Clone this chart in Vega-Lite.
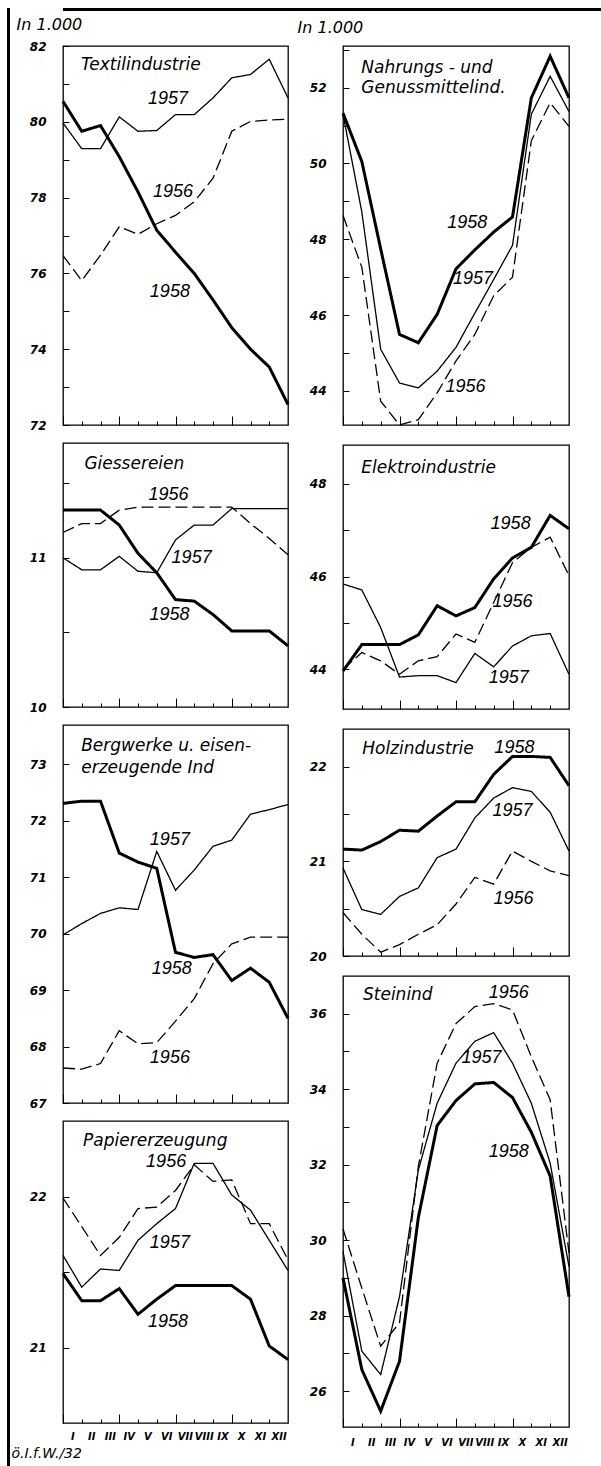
{
"$schema": "https://vega.github.io/schema/vega-lite/v6.json",
"background": "white",
"padding": {"left": 7, "top": 8, "right": 0, "bottom": 0},
"datasets": {
"series": [
{"p":"T","yr":"1956","k":0,"v":76.47},{"p":"T","yr":"1956","k":1,"v":75.81},{"p":"T","yr":"1956","k":2,"v":76.48},{"p":"T","yr":"1956","k":3,"v":77.23},{"p":"T","yr":"1956","k":4,"v":77.03},{"p":"T","yr":"1956","k":5,"v":77.31},{"p":"T","yr":"1956","k":6,"v":77.53},{"p":"T","yr":"1956","k":7,"v":77.89},{"p":"T","yr":"1956","k":8,"v":78.51},{"p":"T","yr":"1956","k":9,"v":79.75},{"p":"T","yr":"1956","k":10,"v":80.01},{"p":"T","yr":"1956","k":11,"v":80.05},{"p":"T","yr":"1956","k":12,"v":80.07},
{"p":"T","yr":"1957","k":0,"v":79.97},{"p":"T","yr":"1957","k":1,"v":79.29},{"p":"T","yr":"1957","k":2,"v":79.29},{"p":"T","yr":"1957","k":3,"v":80.13},{"p":"T","yr":"1957","k":4,"v":79.75},{"p":"T","yr":"1957","k":5,"v":79.77},{"p":"T","yr":"1957","k":6,"v":80.19},{"p":"T","yr":"1957","k":7,"v":80.19},{"p":"T","yr":"1957","k":8,"v":80.63},{"p":"T","yr":"1957","k":9,"v":81.16},{"p":"T","yr":"1957","k":10,"v":81.25},{"p":"T","yr":"1957","k":11,"v":81.65},{"p":"T","yr":"1957","k":12,"v":80.63},
{"p":"T","yr":"1958","k":0,"v":80.54},{"p":"T","yr":"1958","k":1,"v":79.75},{"p":"T","yr":"1958","k":2,"v":79.9},{"p":"T","yr":"1958","k":3,"v":79.08},{"p":"T","yr":"1958","k":4,"v":78.15},{"p":"T","yr":"1958","k":5,"v":77.14},{"p":"T","yr":"1958","k":6,"v":76.56},{"p":"T","yr":"1958","k":7,"v":76.0},{"p":"T","yr":"1958","k":8,"v":75.3},{"p":"T","yr":"1958","k":9,"v":74.57},{"p":"T","yr":"1958","k":10,"v":74.0},{"p":"T","yr":"1958","k":11,"v":73.53},{"p":"T","yr":"1958","k":12,"v":72.54},
{"p":"G","yr":"1956","k":0,"v":11.17},{"p":"G","yr":"1956","k":1,"v":11.23},{"p":"G","yr":"1956","k":2,"v":11.23},{"p":"G","yr":"1956","k":3,"v":11.32},{"p":"G","yr":"1956","k":4,"v":11.34},{"p":"G","yr":"1956","k":5,"v":11.34},{"p":"G","yr":"1956","k":6,"v":11.34},{"p":"G","yr":"1956","k":7,"v":11.34},{"p":"G","yr":"1956","k":8,"v":11.34},{"p":"G","yr":"1956","k":9,"v":11.34},{"p":"G","yr":"1956","k":10,"v":11.23},{"p":"G","yr":"1956","k":11,"v":11.13},{"p":"G","yr":"1956","k":12,"v":11.02},
{"p":"G","yr":"1957","k":0,"v":11.0},{"p":"G","yr":"1957","k":1,"v":10.92},{"p":"G","yr":"1957","k":2,"v":10.92},{"p":"G","yr":"1957","k":3,"v":11.01},{"p":"G","yr":"1957","k":4,"v":10.91},{"p":"G","yr":"1957","k":5,"v":10.9},{"p":"G","yr":"1957","k":6,"v":11.12},{"p":"G","yr":"1957","k":7,"v":11.22},{"p":"G","yr":"1957","k":8,"v":11.22},{"p":"G","yr":"1957","k":9,"v":11.33},{"p":"G","yr":"1957","k":10,"v":11.33},{"p":"G","yr":"1957","k":11,"v":11.33},{"p":"G","yr":"1957","k":12,"v":11.33},
{"p":"G","yr":"1958","k":0,"v":11.32},{"p":"G","yr":"1958","k":1,"v":11.32},{"p":"G","yr":"1958","k":2,"v":11.32},{"p":"G","yr":"1958","k":3,"v":11.22},{"p":"G","yr":"1958","k":4,"v":11.03},{"p":"G","yr":"1958","k":5,"v":10.9},{"p":"G","yr":"1958","k":6,"v":10.72},{"p":"G","yr":"1958","k":7,"v":10.71},{"p":"G","yr":"1958","k":8,"v":10.62},{"p":"G","yr":"1958","k":9,"v":10.51},{"p":"G","yr":"1958","k":10,"v":10.51},{"p":"G","yr":"1958","k":11,"v":10.51},{"p":"G","yr":"1958","k":12,"v":10.41},
{"p":"B","yr":"1956","k":0,"v":67.62},{"p":"B","yr":"1956","k":1,"v":67.6},{"p":"B","yr":"1956","k":2,"v":67.7},{"p":"B","yr":"1956","k":3,"v":68.28},{"p":"B","yr":"1956","k":4,"v":68.05},{"p":"B","yr":"1956","k":5,"v":68.07},{"p":"B","yr":"1956","k":6,"v":68.45},{"p":"B","yr":"1956","k":7,"v":68.85},{"p":"B","yr":"1956","k":8,"v":69.47},{"p":"B","yr":"1956","k":9,"v":69.82},{"p":"B","yr":"1956","k":10,"v":69.94},{"p":"B","yr":"1956","k":11,"v":69.94},{"p":"B","yr":"1956","k":12,"v":69.94},
{"p":"B","yr":"1957","k":0,"v":69.98},{"p":"B","yr":"1957","k":1,"v":70.18},{"p":"B","yr":"1957","k":2,"v":70.36},{"p":"B","yr":"1957","k":3,"v":70.46},{"p":"B","yr":"1957","k":4,"v":70.43},{"p":"B","yr":"1957","k":5,"v":71.46},{"p":"B","yr":"1957","k":6,"v":70.77},{"p":"B","yr":"1957","k":7,"v":71.13},{"p":"B","yr":"1957","k":8,"v":71.55},{"p":"B","yr":"1957","k":9,"v":71.66},{"p":"B","yr":"1957","k":10,"v":72.12},{"p":"B","yr":"1957","k":11,"v":72.2},{"p":"B","yr":"1957","k":12,"v":72.29},
{"p":"B","yr":"1958","k":0,"v":72.31},{"p":"B","yr":"1958","k":1,"v":72.35},{"p":"B","yr":"1958","k":2,"v":72.35},{"p":"B","yr":"1958","k":3,"v":71.43},{"p":"B","yr":"1958","k":4,"v":71.27},{"p":"B","yr":"1958","k":5,"v":71.16},{"p":"B","yr":"1958","k":6,"v":69.67},{"p":"B","yr":"1958","k":7,"v":69.58},{"p":"B","yr":"1958","k":8,"v":69.63},{"p":"B","yr":"1958","k":9,"v":69.17},{"p":"B","yr":"1958","k":10,"v":69.39},{"p":"B","yr":"1958","k":11,"v":69.14},{"p":"B","yr":"1958","k":12,"v":68.5},
{"p":"P","yr":"1956","k":0,"v":21.99},{"p":"P","yr":"1956","k":1,"v":21.8},{"p":"P","yr":"1956","k":2,"v":21.61},{"p":"P","yr":"1956","k":3,"v":21.73},{"p":"P","yr":"1956","k":4,"v":21.92},{"p":"P","yr":"1956","k":5,"v":21.93},{"p":"P","yr":"1956","k":6,"v":22.04},{"p":"P","yr":"1956","k":7,"v":22.21},{"p":"P","yr":"1956","k":8,"v":22.1},{"p":"P","yr":"1956","k":9,"v":22.11},{"p":"P","yr":"1956","k":10,"v":21.82},{"p":"P","yr":"1956","k":11,"v":21.82},{"p":"P","yr":"1956","k":12,"v":21.58},
{"p":"P","yr":"1957","k":0,"v":21.61},{"p":"P","yr":"1957","k":1,"v":21.4},{"p":"P","yr":"1957","k":2,"v":21.52},{"p":"P","yr":"1957","k":3,"v":21.51},{"p":"P","yr":"1957","k":4,"v":21.71},{"p":"P","yr":"1957","k":5,"v":21.82},{"p":"P","yr":"1957","k":6,"v":21.92},{"p":"P","yr":"1957","k":7,"v":22.22},{"p":"P","yr":"1957","k":8,"v":22.22},{"p":"P","yr":"1957","k":9,"v":22.01},{"p":"P","yr":"1957","k":10,"v":21.91},{"p":"P","yr":"1957","k":11,"v":21.71},{"p":"P","yr":"1957","k":12,"v":21.51},
{"p":"P","yr":"1958","k":0,"v":21.49},{"p":"P","yr":"1958","k":1,"v":21.31},{"p":"P","yr":"1958","k":2,"v":21.31},{"p":"P","yr":"1958","k":3,"v":21.39},{"p":"P","yr":"1958","k":4,"v":21.22},{"p":"P","yr":"1958","k":5,"v":21.32},{"p":"P","yr":"1958","k":6,"v":21.41},{"p":"P","yr":"1958","k":7,"v":21.41},{"p":"P","yr":"1958","k":8,"v":21.41},{"p":"P","yr":"1958","k":9,"v":21.41},{"p":"P","yr":"1958","k":10,"v":21.32},{"p":"P","yr":"1958","k":11,"v":21.01},{"p":"P","yr":"1958","k":12,"v":20.92},
{"p":"N","yr":"1956","k":0,"v":48.63},{"p":"N","yr":"1956","k":1,"v":47.26},{"p":"N","yr":"1956","k":2,"v":43.73},{"p":"N","yr":"1956","k":3,"v":43.1},{"p":"N","yr":"1956","k":4,"v":43.24},{"p":"N","yr":"1956","k":5,"v":43.95},{"p":"N","yr":"1956","k":6,"v":44.79},{"p":"N","yr":"1956","k":7,"v":45.49},{"p":"N","yr":"1956","k":8,"v":46.51},{"p":"N","yr":"1956","k":9,"v":47.0},{"p":"N","yr":"1956","k":10,"v":50.6},{"p":"N","yr":"1956","k":11,"v":51.6},{"p":"N","yr":"1956","k":12,"v":50.98},
{"p":"N","yr":"1957","k":0,"v":51.3},{"p":"N","yr":"1957","k":1,"v":48.72},{"p":"N","yr":"1957","k":2,"v":45.1},{"p":"N","yr":"1957","k":3,"v":44.21},{"p":"N","yr":"1957","k":4,"v":44.08},{"p":"N","yr":"1957","k":5,"v":44.52},{"p":"N","yr":"1957","k":6,"v":45.15},{"p":"N","yr":"1957","k":7,"v":46.05},{"p":"N","yr":"1957","k":8,"v":46.94},{"p":"N","yr":"1957","k":9,"v":47.84},{"p":"N","yr":"1957","k":10,"v":51.3},{"p":"N","yr":"1957","k":11,"v":52.3},{"p":"N","yr":"1957","k":12,"v":51.37},
{"p":"N","yr":"1958","k":0,"v":51.33},{"p":"N","yr":"1958","k":1,"v":50.05},{"p":"N","yr":"1958","k":2,"v":47.75},{"p":"N","yr":"1958","k":3,"v":45.49},{"p":"N","yr":"1958","k":4,"v":45.27},{"p":"N","yr":"1958","k":5,"v":46.02},{"p":"N","yr":"1958","k":6,"v":47.22},{"p":"N","yr":"1958","k":7,"v":47.72},{"p":"N","yr":"1958","k":8,"v":48.19},{"p":"N","yr":"1958","k":9,"v":48.59},{"p":"N","yr":"1958","k":10,"v":51.73},{"p":"N","yr":"1958","k":11,"v":52.83},{"p":"N","yr":"1958","k":12,"v":51.73},
{"p":"E","yr":"1956","k":0,"v":44.0},{"p":"E","yr":"1956","k":1,"v":44.36},{"p":"E","yr":"1956","k":2,"v":44.18},{"p":"E","yr":"1956","k":3,"v":43.89},{"p":"E","yr":"1956","k":4,"v":44.18},{"p":"E","yr":"1956","k":5,"v":44.27},{"p":"E","yr":"1956","k":6,"v":44.76},{"p":"E","yr":"1956","k":7,"v":44.58},{"p":"E","yr":"1956","k":8,"v":45.44},{"p":"E","yr":"1956","k":9,"v":46.3},{"p":"E","yr":"1956","k":10,"v":46.63},{"p":"E","yr":"1956","k":11,"v":46.85},{"p":"E","yr":"1956","k":12,"v":46.02},
{"p":"E","yr":"1957","k":0,"v":45.84},{"p":"E","yr":"1957","k":1,"v":45.71},{"p":"E","yr":"1957","k":2,"v":44.9},{"p":"E","yr":"1957","k":3,"v":43.83},{"p":"E","yr":"1957","k":4,"v":43.86},{"p":"E","yr":"1957","k":5,"v":43.86},{"p":"E","yr":"1957","k":6,"v":43.71},{"p":"E","yr":"1957","k":7,"v":44.34},{"p":"E","yr":"1957","k":8,"v":44.05},{"p":"E","yr":"1957","k":9,"v":44.5},{"p":"E","yr":"1957","k":10,"v":44.72},{"p":"E","yr":"1957","k":11,"v":44.77},{"p":"E","yr":"1957","k":12,"v":43.89},
{"p":"E","yr":"1958","k":0,"v":43.96},{"p":"E","yr":"1958","k":1,"v":44.53},{"p":"E","yr":"1958","k":2,"v":44.53},{"p":"E","yr":"1958","k":3,"v":44.53},{"p":"E","yr":"1958","k":4,"v":44.74},{"p":"E","yr":"1958","k":5,"v":45.37},{"p":"E","yr":"1958","k":6,"v":45.15},{"p":"E","yr":"1958","k":7,"v":45.33},{"p":"E","yr":"1958","k":8,"v":45.95},{"p":"E","yr":"1958","k":9,"v":46.4},{"p":"E","yr":"1958","k":10,"v":46.63},{"p":"E","yr":"1958","k":11,"v":47.32},{"p":"E","yr":"1958","k":12,"v":47.03},
{"p":"H","yr":"1956","k":0,"v":20.46},{"p":"H","yr":"1956","k":1,"v":20.23},{"p":"H","yr":"1956","k":2,"v":20.04},{"p":"H","yr":"1956","k":3,"v":20.12},{"p":"H","yr":"1956","k":4,"v":20.23},{"p":"H","yr":"1956","k":5,"v":20.33},{"p":"H","yr":"1956","k":6,"v":20.55},{"p":"H","yr":"1956","k":7,"v":20.83},{"p":"H","yr":"1956","k":8,"v":20.76},{"p":"H","yr":"1956","k":9,"v":21.11},{"p":"H","yr":"1956","k":10,"v":21.0},{"p":"H","yr":"1956","k":11,"v":20.9},{"p":"H","yr":"1956","k":12,"v":20.85},
{"p":"H","yr":"1957","k":0,"v":20.93},{"p":"H","yr":"1957","k":1,"v":20.49},{"p":"H","yr":"1957","k":2,"v":20.44},{"p":"H","yr":"1957","k":3,"v":20.63},{"p":"H","yr":"1957","k":4,"v":20.72},{"p":"H","yr":"1957","k":5,"v":21.04},{"p":"H","yr":"1957","k":6,"v":21.13},{"p":"H","yr":"1957","k":7,"v":21.46},{"p":"H","yr":"1957","k":8,"v":21.67},{"p":"H","yr":"1957","k":9,"v":21.78},{"p":"H","yr":"1957","k":10,"v":21.74},{"p":"H","yr":"1957","k":11,"v":21.52},{"p":"H","yr":"1957","k":12,"v":21.11},
{"p":"H","yr":"1958","k":0,"v":21.13},{"p":"H","yr":"1958","k":1,"v":21.12},{"p":"H","yr":"1958","k":2,"v":21.21},{"p":"H","yr":"1958","k":3,"v":21.33},{"p":"H","yr":"1958","k":4,"v":21.32},{"p":"H","yr":"1958","k":5,"v":21.48},{"p":"H","yr":"1958","k":6,"v":21.63},{"p":"H","yr":"1958","k":7,"v":21.63},{"p":"H","yr":"1958","k":8,"v":21.92},{"p":"H","yr":"1958","k":9,"v":22.11},{"p":"H","yr":"1958","k":10,"v":22.11},{"p":"H","yr":"1958","k":11,"v":22.1},{"p":"H","yr":"1958","k":12,"v":21.8},
{"p":"S","yr":"1956","k":0,"v":30.3},{"p":"S","yr":"1956","k":1,"v":28.73},{"p":"S","yr":"1956","k":2,"v":27.19},{"p":"S","yr":"1956","k":3,"v":27.81},{"p":"S","yr":"1956","k":4,"v":31.95},{"p":"S","yr":"1956","k":5,"v":34.69},{"p":"S","yr":"1956","k":6,"v":35.74},{"p":"S","yr":"1956","k":7,"v":36.19},{"p":"S","yr":"1956","k":8,"v":36.27},{"p":"S","yr":"1956","k":9,"v":36.1},{"p":"S","yr":"1956","k":10,"v":34.86},{"p":"S","yr":"1956","k":11,"v":33.72},{"p":"S","yr":"1956","k":12,"v":29.66},
{"p":"S","yr":"1957","k":0,"v":29.7},{"p":"S","yr":"1957","k":1,"v":27.06},{"p":"S","yr":"1957","k":2,"v":26.44},{"p":"S","yr":"1957","k":3,"v":28.5},{"p":"S","yr":"1957","k":4,"v":31.86},{"p":"S","yr":"1957","k":5,"v":33.63},{"p":"S","yr":"1957","k":6,"v":34.69},{"p":"S","yr":"1957","k":7,"v":35.27},{"p":"S","yr":"1957","k":8,"v":35.5},{"p":"S","yr":"1957","k":9,"v":34.69},{"p":"S","yr":"1957","k":10,"v":33.63},{"p":"S","yr":"1957","k":11,"v":32.04},{"p":"S","yr":"1957","k":12,"v":29.3},
{"p":"S","yr":"1958","k":0,"v":29.0},{"p":"S","yr":"1958","k":1,"v":26.57},{"p":"S","yr":"1958","k":2,"v":25.47},{"p":"S","yr":"1958","k":3,"v":26.79},{"p":"S","yr":"1958","k":4,"v":30.6},{"p":"S","yr":"1958","k":5,"v":33.04},{"p":"S","yr":"1958","k":6,"v":33.7},{"p":"S","yr":"1958","k":7,"v":34.14},{"p":"S","yr":"1958","k":8,"v":34.18},{"p":"S","yr":"1958","k":9,"v":33.78},{"p":"S","yr":"1958","k":10,"v":32.86},{"p":"S","yr":"1958","k":11,"v":31.7},{"p":"S","yr":"1958","k":12,"v":28.5}
],
"labels": [
{"p":"T","kind":"title","t":"Textilindustrie","k":0.96,"v":81.71},
{"p":"T","kind":"year","t":"1957","k":5.6,"v":80.6},
{"p":"T","kind":"year","t":"1956","k":5.87,"v":78.15},
{"p":"T","kind":"year","t":"1958","k":5.7,"v":75.5},
{"p":"G","kind":"title","t":"Giessereien","k":1.14,"v":11.68},
{"p":"G","kind":"year","t":"1956","k":5.63,"v":11.42},
{"p":"G","kind":"year","t":"1957","k":6.86,"v":11.0},
{"p":"G","kind":"year","t":"1958","k":5.68,"v":10.62},
{"p":"B","kind":"title","t":"Bergwerke  u. eisen-\nerzeugende  Ind","k":0.97,"v":73.47},
{"p":"B","kind":"year","t":"1957","k":5.7,"v":71.67},
{"p":"B","kind":"year","t":"1958","k":5.8,"v":69.38},
{"p":"B","kind":"year","t":"1956","k":5.7,"v":67.8},
{"p":"P","kind":"title","t":"Papiererzeugung","k":1.07,"v":22.42},
{"p":"P","kind":"year","t":"1956","k":5.5,"v":22.23},
{"p":"P","kind":"year","t":"1957","k":5.7,"v":21.69},
{"p":"P","kind":"year","t":"1958","k":5.6,"v":21.17},
{"p":"N","kind":"title","t":"Nahrungs - und\nGenussmittelind.","k":0.97,"v":52.73},
{"p":"N","kind":"year","t":"1958","k":6.6,"v":48.43},
{"p":"N","kind":"year","t":"1957","k":6.9,"v":46.94},
{"p":"N","kind":"year","t":"1956","k":6.5,"v":44.1},
{"p":"E","kind":"title","t":"Elektroindustrie","k":0.97,"v":48.52},
{"p":"E","kind":"year","t":"1958","k":8.9,"v":47.13},
{"p":"E","kind":"year","t":"1956","k":9.0,"v":45.44},
{"p":"E","kind":"year","t":"1957","k":8.8,"v":43.82},
{"p":"H","kind":"title","t":"Holzindustrie","k":1.02,"v":22.27},
{"p":"H","kind":"year","t":"1958","k":9.1,"v":22.2},
{"p":"H","kind":"year","t":"1957","k":9.0,"v":21.53},
{"p":"H","kind":"year","t":"1956","k":9.05,"v":20.6},
{"p":"S","kind":"title","t":"Steinind","k":1.06,"v":36.7},
{"p":"S","kind":"year","t":"1956","k":8.8,"v":36.54},
{"p":"S","kind":"year","t":"1957","k":7.35,"v":34.82},
{"p":"S","kind":"year","t":"1958","k":8.8,"v":32.33}
]
},
"config": {
"view": {"stroke": "black", "strokeWidth": 1.3},
"axis": {"domain": false, "grid": false, "tickColor": "black", "tickWidth": 1, "labelColor": "black", "labelFont": "DejaVu Sans", "labelFontStyle": "italic", "labelFontWeight": "bold", "labelFontSize": 12, "labelOverlap": false, "labelFlush": false, "titleColor": "black"},
"axisY": {"tickSize": -6, "labelPadding": 23}
},
"spacing": 0,
"hconcat": [
{"width": 3, "height": 1458, "data": {"values": []}, "mark": {"type": "point", "opacity": 0}, "view": {"stroke": null, "fill": "black"}},
{"spacing": 4, "vconcat": [
{"width": 591, "height": 3, "data": {"values": []}, "mark": {"type": "point", "opacity": 0}, "view": {"stroke": null, "fill": "black"}},
{"spacing": 1, "hconcat": [
{"bounds": "flush", "spacing": 18, "vconcat": [
{"width": 225, "height": 379,
 "encoding": {
  "x": {"field": "k", "type": "quantitative", "scale": {"domain": [0, 12], "nice": false, "zero": false}, "axis": {"values": [0,1,2,3,4,5,6,7,8,9,10,11], "labels": false, "title": null, "tickSize": {"condition": {"test": "datum.value % 3 == 0", "value": -9}, "value": -4}}},
  "y": {"field": "v", "type": "quantitative", "scale": {"domain": [72, 82], "nice": false, "zero": false}, "axis": {"values": [72,73,74,75,76,77,78,79,80,81,82], "labelExpr": "datum.value % 2 == 0 ? '' + datum.value : ''", "title": "In 1.000", "titleAngle": 0, "titleAlign": "left", "titleBaseline": "alphabetic", "titleX": -47, "titleY": -17, "titleFont": "DejaVu Sans", "titleFontStyle": "italic", "titleFontWeight": "normal", "titleFontSize": 16}}
 },
 "layer": [
  {"data": {"name": "series"}, "transform": [{"filter": "datum.p == 'T'"}], "mark": {"type": "line", "color": "black"},
   "encoding": {"detail": {"field": "yr"}, "strokeDash": {"field": "yr", "type": "nominal", "scale": {"domain": ["1956","1957","1958"], "range": [[12,5],[1,0],[1,0]]}, "legend": null}, "strokeWidth": {"condition": {"test": "datum.yr == '1958'", "value": 3}, "value": 1.3}}},
  {"data": {"name": "labels"}, "transform": [{"filter": "datum.p == 'T' && datum.kind == 'year'"}], "mark": {"type": "text", "align": "center", "baseline": "middle", "font": "Liberation Sans", "fontSize": 18, "fontStyle": "italic", "color": "black"}, "encoding": {"text": {"field": "t", "type": "nominal"}}},
  {"data": {"name": "labels"}, "transform": [{"filter": "datum.p == 'T' && datum.kind == 'title'"}], "mark": {"type": "text", "align": "left", "baseline": "top", "font": "DejaVu Sans", "fontSize": 17, "fontStyle": "italic", "lineBreak": "\n", "lineHeight": 21, "color": "black"}, "encoding": {"text": {"field": "t", "type": "nominal"}}}
 ]},
{"width": 225, "height": 264,
 "encoding": {
  "x": {"field": "k", "type": "quantitative", "scale": {"domain": [0, 12], "nice": false, "zero": false}, "axis": {"values": [0,1,2,3,4,5,6,7,8,9,10,11], "labels": false, "title": null, "tickSize": {"condition": {"test": "datum.value % 3 == 0", "value": -9}, "value": -4}}},
  "y": {"field": "v", "type": "quantitative", "scale": {"domain": [10, 11.77], "nice": false, "zero": false}, "axis": {"values": [10,10.5,11,11.5], "labelExpr": "datum.value % 1 == 0 ? '' + datum.value : ''", "title": null}}
 },
 "layer": [
  {"data": {"name": "series"}, "transform": [{"filter": "datum.p == 'G'"}], "mark": {"type": "line", "color": "black"},
   "encoding": {"detail": {"field": "yr"}, "strokeDash": {"field": "yr", "type": "nominal", "scale": {"domain": ["1956","1957","1958"], "range": [[12,5],[1,0],[1,0]]}, "legend": null}, "strokeWidth": {"condition": {"test": "datum.yr == '1958'", "value": 3}, "value": 1.3}}},
  {"data": {"name": "labels"}, "transform": [{"filter": "datum.p == 'G' && datum.kind == 'year'"}], "mark": {"type": "text", "align": "center", "baseline": "middle", "font": "Liberation Sans", "fontSize": 18, "fontStyle": "italic", "color": "black"}, "encoding": {"text": {"field": "t", "type": "nominal"}}},
  {"data": {"name": "labels"}, "transform": [{"filter": "datum.p == 'G' && datum.kind == 'title'"}], "mark": {"type": "text", "align": "left", "baseline": "top", "font": "DejaVu Sans", "fontSize": 17, "fontStyle": "italic", "lineBreak": "\n", "lineHeight": 21, "color": "black"}, "encoding": {"text": {"field": "t", "type": "nominal"}}}
 ]},
{"width": 225, "height": 378,
 "encoding": {
  "x": {"field": "k", "type": "quantitative", "scale": {"domain": [0, 12], "nice": false, "zero": false}, "axis": {"values": [0,1,2,3,4,5,6,7,8,9,10,11], "labels": false, "title": null, "tickSize": {"condition": {"test": "datum.value % 3 == 0", "value": -9}, "value": -4}}},
  "y": {"field": "v", "type": "quantitative", "scale": {"domain": [67, 73.7], "nice": false, "zero": false}, "axis": {"values": [67,68,69,70,71,72,73], "labelExpr": "'' + datum.value", "title": null}}
 },
 "layer": [
  {"data": {"name": "series"}, "transform": [{"filter": "datum.p == 'B'"}], "mark": {"type": "line", "color": "black"},
   "encoding": {"detail": {"field": "yr"}, "strokeDash": {"field": "yr", "type": "nominal", "scale": {"domain": ["1956","1957","1958"], "range": [[12,5],[1,0],[1,0]]}, "legend": null}, "strokeWidth": {"condition": {"test": "datum.yr == '1958'", "value": 3}, "value": 1.3}}},
  {"data": {"name": "labels"}, "transform": [{"filter": "datum.p == 'B' && datum.kind == 'year'"}], "mark": {"type": "text", "align": "center", "baseline": "middle", "font": "Liberation Sans", "fontSize": 18, "fontStyle": "italic", "color": "black"}, "encoding": {"text": {"field": "t", "type": "nominal"}}},
  {"data": {"name": "labels"}, "transform": [{"filter": "datum.p == 'B' && datum.kind == 'title'"}], "mark": {"type": "text", "align": "left", "baseline": "top", "font": "DejaVu Sans", "fontSize": 17, "fontStyle": "italic", "lineBreak": "\n", "lineHeight": 22, "color": "black"}, "encoding": {"text": {"field": "t", "type": "nominal"}}}
 ]},
{"width": 225, "height": 302,
 "encoding": {
  "x": {"field": "k", "type": "quantitative", "scale": {"domain": [0, 12], "nice": false, "zero": false}, "axis": {"values": [0,1,2,3,4,5,6,7,8,9,10,11], "labels": true, "labelExpr": "['I','II','III','IV','V','VI','VII','VIII','IX','X','XI','XII'][datum.value]", "labelOffset": 9.4, "labelFontSize": 10, "labelPadding": {"condition": {"test": "datum.value % 3 == 0", "value": 17}, "value": 12}, "tickSize": {"condition": {"test": "datum.value % 3 == 0", "value": -9}, "value": -4}, "title": "ö.I.f.W./32", "titleX": -52, "titleY": 34, "titleAngle": 0, "titleAlign": "left", "titleBaseline": "alphabetic", "titleFont": "DejaVu Sans", "titleFontStyle": "italic", "titleFontWeight": "normal", "titleFontSize": 14}},
  "y": {"field": "v", "type": "quantitative", "scale": {"domain": [20.5, 22.5], "nice": false, "zero": false}, "axis": {"values": [21,21.5,22], "labelExpr": "datum.value % 1 == 0 ? '' + datum.value : ''", "title": null}}
 },
 "layer": [
  {"data": {"name": "series"}, "transform": [{"filter": "datum.p == 'P'"}], "mark": {"type": "line", "color": "black"},
   "encoding": {"detail": {"field": "yr"}, "strokeDash": {"field": "yr", "type": "nominal", "scale": {"domain": ["1956","1957","1958"], "range": [[12,5],[1,0],[1,0]]}, "legend": null}, "strokeWidth": {"condition": {"test": "datum.yr == '1958'", "value": 3}, "value": 1.3}}},
  {"data": {"name": "labels"}, "transform": [{"filter": "datum.p == 'P' && datum.kind == 'year'"}], "mark": {"type": "text", "align": "center", "baseline": "middle", "font": "Liberation Sans", "fontSize": 18, "fontStyle": "italic", "color": "black"}, "encoding": {"text": {"field": "t", "type": "nominal"}}},
  {"data": {"name": "labels"}, "transform": [{"filter": "datum.p == 'P' && datum.kind == 'title'"}], "mark": {"type": "text", "align": "left", "baseline": "top", "font": "DejaVu Sans", "fontSize": 17, "fontStyle": "italic", "lineBreak": "\n", "lineHeight": 21, "color": "black"}, "encoding": {"text": {"field": "t", "type": "nominal"}}}
 ]}
]},
{"bounds": "flush", "spacing": 20, "vconcat": [
{"width": 226, "height": 379,
 "encoding": {
  "x": {"field": "k", "type": "quantitative", "scale": {"domain": [0, 12], "nice": false, "zero": false}, "axis": {"values": [0,1,2,3,4,5,6,7,8,9,10,11], "labels": false, "title": null, "tickSize": {"condition": {"test": "datum.value % 3 == 0", "value": -9}, "value": -4}}},
  "y": {"field": "v", "type": "quantitative", "scale": {"domain": [43.1, 53.1], "nice": false, "zero": false}, "axis": {"values": [44,45,46,47,48,49,50,51,52,53], "labelExpr": "datum.value % 2 == 0 ? '' + datum.value : ''", "title": "In 1.000", "titleAngle": 0, "titleAlign": "left", "titleBaseline": "alphabetic", "titleX": -46, "titleY": -14, "titleFont": "DejaVu Sans", "titleFontStyle": "italic", "titleFontWeight": "normal", "titleFontSize": 16}}
 },
 "layer": [
  {"data": {"name": "series"}, "transform": [{"filter": "datum.p == 'N'"}], "mark": {"type": "line", "color": "black"},
   "encoding": {"detail": {"field": "yr"}, "strokeDash": {"field": "yr", "type": "nominal", "scale": {"domain": ["1956","1957","1958"], "range": [[12,5],[1,0],[1,0]]}, "legend": null}, "strokeWidth": {"condition": {"test": "datum.yr == '1958'", "value": 3}, "value": 1.3}}},
  {"data": {"name": "labels"}, "transform": [{"filter": "datum.p == 'N' && datum.kind == 'year'"}], "mark": {"type": "text", "align": "center", "baseline": "middle", "font": "Liberation Sans", "fontSize": 18, "fontStyle": "italic", "color": "black"}, "encoding": {"text": {"field": "t", "type": "nominal"}}},
  {"data": {"name": "labels"}, "transform": [{"filter": "datum.p == 'N' && datum.kind == 'title'"}], "mark": {"type": "text", "align": "left", "baseline": "top", "font": "DejaVu Sans", "fontSize": 17, "fontStyle": "italic", "lineBreak": "\n", "lineHeight": 20, "color": "black"}, "encoding": {"text": {"field": "t", "type": "nominal"}}}
 ]},
{"width": 226, "height": 264,
 "encoding": {
  "x": {"field": "k", "type": "quantitative", "scale": {"domain": [0, 12], "nice": false, "zero": false}, "axis": {"values": [0,1,2,3,4,5,6,7,8,9,10,11], "labels": false, "title": null, "tickSize": {"condition": {"test": "datum.value % 3 == 0", "value": -9}, "value": -4}}},
  "y": {"field": "v", "type": "quantitative", "scale": {"domain": [43.14, 48.84], "nice": false, "zero": false}, "axis": {"values": [44,45,46,47,48], "labelExpr": "datum.value % 2 == 0 ? '' + datum.value : ''", "title": null}}
 },
 "layer": [
  {"data": {"name": "series"}, "transform": [{"filter": "datum.p == 'E'"}], "mark": {"type": "line", "color": "black"},
   "encoding": {"detail": {"field": "yr"}, "strokeDash": {"field": "yr", "type": "nominal", "scale": {"domain": ["1956","1957","1958"], "range": [[12,5],[1,0],[1,0]]}, "legend": null}, "strokeWidth": {"condition": {"test": "datum.yr == '1958'", "value": 3}, "value": 1.3}}},
  {"data": {"name": "labels"}, "transform": [{"filter": "datum.p == 'E' && datum.kind == 'year'"}], "mark": {"type": "text", "align": "center", "baseline": "middle", "font": "Liberation Sans", "fontSize": 18, "fontStyle": "italic", "color": "black"}, "encoding": {"text": {"field": "t", "type": "nominal"}}},
  {"data": {"name": "labels"}, "transform": [{"filter": "datum.p == 'E' && datum.kind == 'title'"}], "mark": {"type": "text", "align": "left", "baseline": "top", "font": "DejaVu Sans", "fontSize": 17, "fontStyle": "italic", "lineBreak": "\n", "lineHeight": 21, "color": "black"}, "encoding": {"text": {"field": "t", "type": "nominal"}}}
 ]},
{"width": 226, "height": 227,
 "encoding": {
  "x": {"field": "k", "type": "quantitative", "scale": {"domain": [0, 12], "nice": false, "zero": false}, "axis": {"values": [0,1,2,3,4,5,6,7,8,9,10,11], "labels": false, "title": null, "tickSize": {"condition": {"test": "datum.value % 3 == 0", "value": -9}, "value": -4}}},
  "y": {"field": "v", "type": "quantitative", "scale": {"domain": [20, 22.4], "nice": false, "zero": false}, "axis": {"values": [20,20.5,21,21.5,22], "labelExpr": "datum.value % 1 == 0 ? '' + datum.value : ''", "title": null}}
 },
 "layer": [
  {"data": {"name": "series"}, "transform": [{"filter": "datum.p == 'H'"}], "mark": {"type": "line", "color": "black"},
   "encoding": {"detail": {"field": "yr"}, "strokeDash": {"field": "yr", "type": "nominal", "scale": {"domain": ["1956","1957","1958"], "range": [[12,5],[1,0],[1,0]]}, "legend": null}, "strokeWidth": {"condition": {"test": "datum.yr == '1958'", "value": 3}, "value": 1.3}}},
  {"data": {"name": "labels"}, "transform": [{"filter": "datum.p == 'H' && datum.kind == 'year'"}], "mark": {"type": "text", "align": "center", "baseline": "middle", "font": "Liberation Sans", "fontSize": 18, "fontStyle": "italic", "color": "black"}, "encoding": {"text": {"field": "t", "type": "nominal"}}},
  {"data": {"name": "labels"}, "transform": [{"filter": "datum.p == 'H' && datum.kind == 'title'"}], "mark": {"type": "text", "align": "left", "baseline": "top", "font": "DejaVu Sans", "fontSize": 17, "fontStyle": "italic", "lineBreak": "\n", "lineHeight": 21, "color": "black"}, "encoding": {"text": {"field": "t", "type": "nominal"}}}
 ]},
{"width": 226, "height": 451,
 "encoding": {
  "x": {"field": "k", "type": "quantitative", "scale": {"domain": [0, 12], "nice": false, "zero": false}, "axis": {"values": [0,1,2,3,4,5,6,7,8,9,10,11], "labels": true, "labelExpr": "['I','II','III','IV','V','VI','VII','VIII','IX','X','XI','XII'][datum.value]", "labelOffset": 9.4, "labelFontSize": 10, "labelPadding": {"condition": {"test": "datum.value % 3 == 0", "value": 19}, "value": 14}, "tickSize": {"condition": {"test": "datum.value % 3 == 0", "value": -9}, "value": -4}, "title": null}},
  "y": {"field": "v", "type": "quantitative", "scale": {"domain": [25.05, 37.0], "nice": false, "zero": false}, "axis": {"values": [26,27,28,29,30,31,32,33,34,35,36], "labelExpr": "datum.value % 2 == 0 ? '' + datum.value : ''", "title": null}}
 },
 "layer": [
  {"data": {"name": "series"}, "transform": [{"filter": "datum.p == 'S'"}], "mark": {"type": "line", "color": "black"},
   "encoding": {"detail": {"field": "yr"}, "strokeDash": {"field": "yr", "type": "nominal", "scale": {"domain": ["1956","1957","1958"], "range": [[12,5],[1,0],[1,0]]}, "legend": null}, "strokeWidth": {"condition": {"test": "datum.yr == '1958'", "value": 3}, "value": 1.3}}},
  {"data": {"name": "labels"}, "transform": [{"filter": "datum.p == 'S' && datum.kind == 'year'"}], "mark": {"type": "text", "align": "center", "baseline": "middle", "font": "Liberation Sans", "fontSize": 18, "fontStyle": "italic", "color": "black"}, "encoding": {"text": {"field": "t", "type": "nominal"}}},
  {"data": {"name": "labels"}, "transform": [{"filter": "datum.p == 'S' && datum.kind == 'title'"}], "mark": {"type": "text", "align": "left", "baseline": "top", "font": "DejaVu Sans", "fontSize": 17, "fontStyle": "italic", "lineBreak": "\n", "lineHeight": 21, "color": "black"}, "encoding": {"text": {"field": "t", "type": "nominal"}}}
 ]}
]}
]}
]}
]
}
